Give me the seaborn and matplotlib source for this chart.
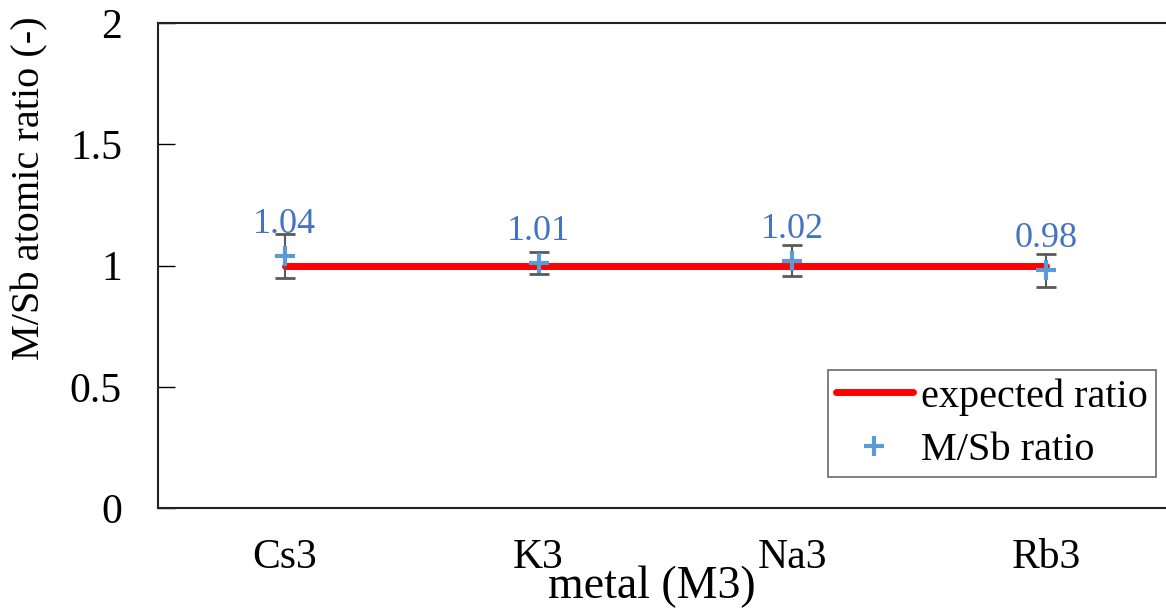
import numpy as np
import pandas as pd
import seaborn as sns
import matplotlib.pyplot as plt

# data
metals = ["Cs3", "K3", "Na3", "Rb3"]
ratio = [1.04, 1.01, 1.02, 0.98]
ratio_err = [0.09, 0.045, 0.065, 0.067]
expected = [1.0, 1.0, 1.0, 1.0]

sns.set_style("white")
plt.rcParams['font.family'] = ['Liberation Serif', 'DejaVu Serif']
plt.rcParams['text.color'] = 'black'
plt.rcParams['axes.labelcolor'] = 'black'
plt.rcParams['xtick.color'] = 'black'
plt.rcParams['ytick.color'] = 'black'

df = pd.DataFrame({"metal": metals, "ratio": ratio, "err": ratio_err, "expected": expected})
df["pos"] = np.arange(len(df))

fig = plt.figure(figsize=(11.66, 6.10), dpi=100)
ax = fig.add_axes([158 / 1166, 1 - 508 / 610, (1173 - 158) / 1166, (508 - 23) / 610])

sns.lineplot(data=df, x="pos", y="expected", color="#ff0000", linewidth=5,
             label="expected ratio", ax=ax, zorder=2)
ax.errorbar(df["pos"], df["ratio"], yerr=df["err"], fmt="none", ecolor="#595959",
            elinewidth=1.5, capsize=7, capthick=2, zorder=3)
ax.plot(df["pos"], df["ratio"], linestyle="none", marker="+", markersize=15,
        markeredgewidth=3, color="#5b9bd5", label="M/Sb ratio", zorder=4)

for x, y in zip(df["pos"], df["ratio"]):
    ax.text(x, y + 0.095, f"{y:.2f}", ha="center", va="baseline",
            fontsize=26, color="#4472c4")

ax.set_xlim(-0.5, 3.5)
ax.set_ylim(0, 2)
ax.set_xticks(df["pos"])
ax.set_xticklabels(metals)
ax.set_yticks([0, 0.5, 1, 1.5, 2])
ax.set_yticklabels(["0", "0.5", "1", "1.5", "2"])
ax.tick_params(axis="y", left=True, direction="in", length=12, width=1,
               labelsize=30, pad=26)
ax.tick_params(axis="x", bottom=False, length=0, labelsize=30, pad=22)
ax.set_xlabel("metal (M3)", fontsize=33)
ax.xaxis.set_label_coords(0.487, -0.118)
ax.set_ylabel("M/Sb atomic ratio (-)", fontsize=29)
ax.yaxis.set_label_coords(-0.108, 0.66)
for s in ax.spines.values():
    s.set_color("#222222")
    s.set_linewidth(1.5)

leg = ax.legend(loc="upper left", bbox_to_anchor=(828 / 1166, 1 - 370 / 610),
                bbox_transform=fig.transFigure, fontsize=29, frameon=True,
                fancybox=False, borderpad=0.2, handlelength=1.9, handletextpad=0.2,
                labelspacing=0.4, borderaxespad=0)
leg.get_frame().set_edgecolor("#444444")
leg.get_frame().set_linewidth(1.2)

plt.savefig("out.png", dpi=100)
plt.close()
